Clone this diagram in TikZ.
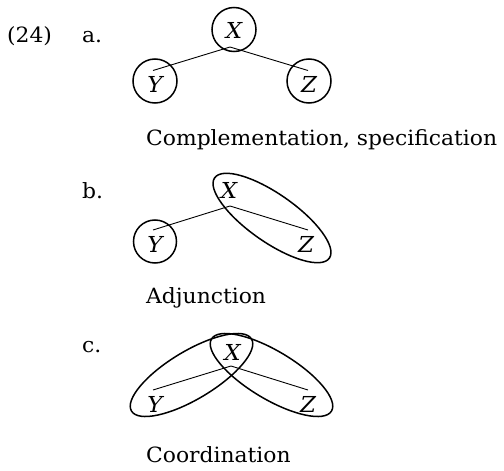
\documentclass[tikz,border=0pt]{standalone}
\usepackage{fontspec}
\setmainfont{DejaVu Serif}[FakeStretch=1.04]
\begin{document}
\begin{tikzpicture}[x=1pt,y=-1pt,
  lbl/.style={inner sep=0pt,anchor=base west,font=\fontsize{21}{25}\selectfont},
  let/.style={inner sep=0pt,anchor=base,font=\fontsize{22}{26}\selectfont\itshape},
  ring/.style={draw,line width=1.5pt},
  branch/.style={draw,line width=0.9pt}]
\useasboundingbox (0,0) rectangle (504,471);
% labels
\node[lbl] (num) at (7,42) {(24)};
\node[lbl] (la) at (82,42) {a.};
\node[lbl] (lb) at (82,198) {b.};
\node[lbl] (lc) at (82,352) {c.};
\node[lbl] (capa) at (146,145) {Complementation, specification};
\node[lbl] (capb) at (146,303) {Adjunction};
\node[lbl] (capc) at (146,462) {Coordination};
% (a)
\node[let] (aX) at (234,38) {X};
\node[let] (aY) at (155,92) {Y};
\node[let] (aZ) at (309,92) {Z};
\coordinate (aXb) at (230,47);
\coordinate (aYt) at (153,70.5);
\coordinate (aZt) at (308,70.5);
\draw[branch] (aYt) -- (aXb) -- (aZt);
\draw[ring] (234,29.5) circle (22);
\draw[ring] (155,81) circle (22);
\draw[ring] (309,81) circle (22);
% (b)
\node[let] (bX) at (229,198) {X};
\node[let] (bY) at (155,252) {Y};
\node[let] (bZ) at (306,252) {Z};
\coordinate (bXb) at (230,206);
\coordinate (bYt) at (153,230);
\coordinate (bZt) at (308,230);
\draw[branch] (bYt) -- (bXb) -- (bZt);
\draw[ring] (155,241.5) circle (21.5);
\draw[ring,rotate around={-35:(272,218)}] (272,218) ellipse [x radius=70, y radius=24];
% (c)
\node[let] (cX) at (232.5,360) {X};
\node[let] (cY) at (155,412) {Y};
\node[let] (cZ) at (308,412) {Z};
\coordinate (cXb) at (231,366);
\coordinate (cYt) at (153,390);
\coordinate (cZt) at (308,390);
\draw[branch] (cYt) -- (cXb) -- (cZt);
\draw[ring,rotate around={31:(191.5,375)}] (191.5,375) ellipse [x radius=70, y radius=24];
\draw[ring,rotate around={-31:(271.5,375)}] (271.5,375) ellipse [x radius=70, y radius=24];
\end{tikzpicture}
\end{document}
